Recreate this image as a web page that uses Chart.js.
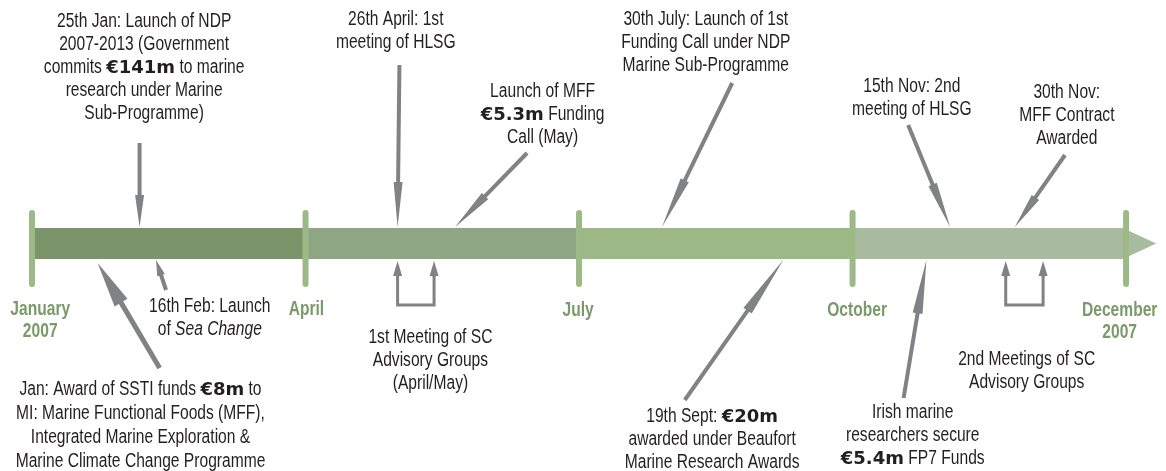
<!DOCTYPE html>
<html><head><meta charset="utf-8">
<script src="https://cdn.jsdelivr.net/npm/chart.js@4.4.0/dist/chart.umd.min.js"></script>
<style>html,body{margin:0;padding:0;background:#fff}canvas{display:block}</style>
</head><body>
<canvas id="c" width="1166" height="471"></canvas>
<script>
// ---- DATA (x in months: 0 = January 2007 ... 12 = December 2007) ----
const quarterTicks = [0, 3, 6, 9, 12];
const quarterNames = [["January", "2007"], ["April"], ["July"], ["October"], ["December", "2007"]];
const segmentRanges = [[0, 3], [3, 6], [6, 9], [9, 12]];

const topEventDates = [1.18, 4.01, 4.64, 6.91, 10.07, 10.78];
const topEventTexts = [
  ["25th Jan: Launch of NDP", "2007-2013 (Government", "commits **€141m** to marine", "research under Marine", "Sub-Programme)"],
  ["26th April: 1st", "meeting of HLSG"],
  ["Launch of MFF", "**€5.3m** Funding", "Call (May)"],
  ["30th July: Launch of 1st", "Funding Call under NDP", "Marine Sub-Programme"],
  ["15th Nov: 2nd", "meeting of HLSG"],
  ["30th Nov:", "MFF Contract", "Awarded"]
];
const bottomEventDates = [1.36, 0.72, 8.24, 9.81];
const bottomEventTexts = [
  ["16th Feb: Launch", "of _Sea Change_"],
  ["Jan: Award of SSTI funds **€8m** to", "MI: Marine Functional Foods (MFF),", "Integrated Marine Exploration &", "Marine Climate Change Programme"],
  ["19th Sept: **€20m**", "awarded under Beaufort", "Marine Research Awards"],
  ["Irish marine", "researchers secure", "**€5.4m** FP7 Funds"]
];
const bracketEventDates = [[4.01, 4.41], [10.68, 11.09]];
const bracketEventTexts = [
  ["1st Meeting of SC", "Advisory Groups", "(April/May)"],
  ["2nd Meetings of SC", "Advisory Groups"]
];

// ---- LAYOUT (label anchors, arrow tails; y in layout units, top = 0) ----
const layout = {
  bandY: 243.5, bandH: 31, tickTop: 213, tickBottom: 284, tipEnd: 12.33,
  topLabelPos: [[1.23, 22], [3.99, 20], [5.60, 92], [7.39, 20], [9.65, 87], [11.35, 93]],
  topArrowFrom: [[1.18, 143], [4.03, 65], [5.43, 153], [7.68, 83], [9.61, 125], [11.33, 155]],
  topTipY: 227,
  topHead: [32, 45, 43, 52, 46, 36],
  bottomLabelPos: [[1.95, 307], [1.19, 390], [7.46, 417], [9.66, 413]],
  bottomArrowFrom: [[1.47, 290], [1.40, 368], [7.16, 400], [9.56, 398]],
  bottomTipY: [260, 263, 260, 260],
  bottomHead: [16, 46, 62, 54],
  bottomHalf: [4, 7.5, 5, 5],
  bottomShaft: [2, 2.5, 2, 2],
  bracketLabelPos: [[4.37, 338], [10.91, 360]],
  bracketTipY: 261, bracketBaseY: 305,
  monthLabelPos: [[0.09, 310], [3.01, 310], [5.99, 311], [9.05, 311], [11.93, 311]],
  lineGap: 23, bottomGap: [23, 24, 23, 23]
};

const COLORS = {
  segments: ['#7b9469', '#8fa684', '#9cb886', '#a9bb9f'],
  tip: '#a9bb9f', tick: '#9dba86', month: '#7b9a69', arrow: '#808285', text: '#231f20'
};
// condensed look: Liberation Sans squeezed horizontally
const FONT_R = {f: "19.5px 'Liberation Sans', Arial, sans-serif", sx: 0.8};
const FONT_I = {f: "italic 19.5px 'Liberation Sans', Arial, sans-serif", sx: 0.8};
const FONT_B = {f: "bold 18px 'DejaVu Sans', sans-serif", sx: 1};
const FONT_M = {f: "bold 19.5px 'Liberation Sans', Arial, sans-serif", sx: 0.8};

// ---- DATASETS ----
const datasets = [];
quarterTicks.forEach(t => datasets.push({
  type: 'line', data: [{x: t, y: layout.tickTop}, {x: t, y: layout.tickBottom}],
  borderColor: COLORS.tick, borderWidth: 6, borderCapStyle: 'round', pointRadius: 0, order: 0
}));
segmentRanges.forEach((r, i) => datasets.push({
  type: 'line', data: [{x: r[0], y: layout.bandY}, {x: r[1], y: layout.bandY}],
  borderColor: COLORS.segments[i], borderWidth: layout.bandH, borderCapStyle: 'butt', pointRadius: 0, order: 2
}));
datasets.push({
  type: 'line',
  data: [{x: 12, y: layout.bandY - 14}, {x: layout.tipEnd, y: layout.bandY}, {x: 12, y: layout.bandY + 14}, {x: 12, y: layout.bandY - 14}],
  borderWidth: 0, borderColor: COLORS.tip, backgroundColor: COLORS.tip, fill: 'shape', pointRadius: 0, order: 3
});
bracketEventDates.forEach(([a, b]) => datasets.push({
  type: 'line',
  data: [{x: a, y: layout.bracketTipY + 12}, {x: a, y: layout.bracketBaseY}, {x: b, y: layout.bracketBaseY}, {x: b, y: layout.bracketTipY + 12}],
  borderColor: COLORS.arrow, borderWidth: 3, borderJoinStyle: 'miter', pointRadius: 0, order: 1
}));

// ---- DRAWING HELPERS ----
function parseRuns(line) {
  const runs = []; const re = /(\*\*[^*]+\*\*|_[^_]+_)/g; let last = 0, m;
  while ((m = re.exec(line))) {
    if (m.index > last) runs.push({t: line.slice(last, m.index), s: FONT_R});
    const tok = m[0];
    if (tok.startsWith('**')) runs.push({t: tok.slice(2, -2), s: FONT_B});
    else runs.push({t: tok.slice(1, -1), s: FONT_I});
    last = m.index + tok.length;
  }
  if (last < line.length) runs.push({t: line.slice(last), s: FONT_R});
  return runs;
}
function drawLines(ctx, cx, y0, lines, gap, color, baseFont) {
  ctx.fillStyle = color; ctx.textBaseline = 'middle'; ctx.textAlign = 'left';
  lines.forEach((ln, i) => {
    const runs = baseFont ? [{t: ln, s: baseFont}] : parseRuns(ln);
    let w = 0;
    runs.forEach(r => { ctx.font = r.s.f; r.w = ctx.measureText(r.t).width * r.s.sx; w += r.w; });
    let x = cx - w / 2; const y = y0 + i * gap;
    runs.forEach(r => {
      ctx.save(); ctx.font = r.s.f; ctx.translate(x, y); ctx.scale(r.s.sx, 1);
      ctx.fillText(r.t, 0, 0); ctx.restore(); x += r.w;
    });
  });
}
function drawArrow(ctx, x0, y0, x1, y1, L, h, s) {
  const dx = x1 - x0, dy = y1 - y0, len = Math.hypot(dx, dy);
  const ux = dx / len, uy = dy / len, nx = -uy, ny = ux;
  const bx = x1 - ux * L, by = y1 - uy * L;
  ctx.beginPath();
  ctx.moveTo(x0 + nx * s, y0 + ny * s);
  ctx.lineTo(bx + nx * s, by + ny * s);
  ctx.lineTo(bx + nx * h, by + ny * h);
  ctx.lineTo(x1, y1);
  ctx.lineTo(bx - nx * h, by - ny * h);
  ctx.lineTo(bx - nx * s, by - ny * s);
  ctx.lineTo(x0 - nx * s, y0 - ny * s);
  ctx.closePath(); ctx.fill();
}

const timelinePlugin = {
  id: 'timeline',
  afterDatasetsDraw(chart) {
    const ctx = chart.ctx, X = v => chart.scales.x.getPixelForValue(v), Y = v => chart.scales.y.getPixelForValue(v);
    ctx.save();
    ctx.fillStyle = COLORS.arrow;
    topEventDates.forEach((d, i) => {
      const [fx, fy] = layout.topArrowFrom[i];
      drawArrow(ctx, X(fx), Y(fy), X(d), Y(layout.topTipY), layout.topHead[i], 4.5, 2);
    });
    bottomEventDates.forEach((d, i) => {
      const [fx, fy] = layout.bottomArrowFrom[i];
      ctx.fillStyle = COLORS.arrow;
      drawArrow(ctx, X(fx), Y(fy), X(d), Y(layout.bottomTipY[i]), layout.bottomHead[i], layout.bottomHalf[i], layout.bottomShaft[i]);
    });
    bracketEventDates.forEach(pair => pair.forEach(d => {
      ctx.fillStyle = COLORS.arrow;
      drawArrow(ctx, X(d), Y(layout.bracketTipY + 16), X(d), Y(layout.bracketTipY), 15, 4.5, 1.5);
    }));
    topEventTexts.forEach((t, i) => drawLines(ctx, X(layout.topLabelPos[i][0]), Y(layout.topLabelPos[i][1]), t, layout.lineGap, COLORS.text));
    bottomEventTexts.forEach((t, i) => drawLines(ctx, X(layout.bottomLabelPos[i][0]), Y(layout.bottomLabelPos[i][1]), t, layout.bottomGap[i], COLORS.text));
    bracketEventTexts.forEach((t, i) => drawLines(ctx, X(layout.bracketLabelPos[i][0]), Y(layout.bracketLabelPos[i][1]), t, layout.lineGap, COLORS.text));
    quarterNames.forEach((t, i) => drawLines(ctx, X(layout.monthLabelPos[i][0]), Y(layout.monthLabelPos[i][1]), t, 22, COLORS.month, FONT_M));
    ctx.restore();
  }
};

new Chart(document.getElementById('c'), {
  type: 'scatter',
  data: {datasets},
  options: {
    responsive: false, animation: false, events: [],
    layout: {padding: 0},
    plugins: {legend: {display: false}, tooltip: {enabled: false}},
    scales: {
      x: {type: 'linear', min: -0.351, max: 12.438, display: false},
      y: {type: 'linear', min: 0, max: 471, reverse: true, display: false}
    }
  },
  plugins: [timelinePlugin]
});
</script>
</body></html>
